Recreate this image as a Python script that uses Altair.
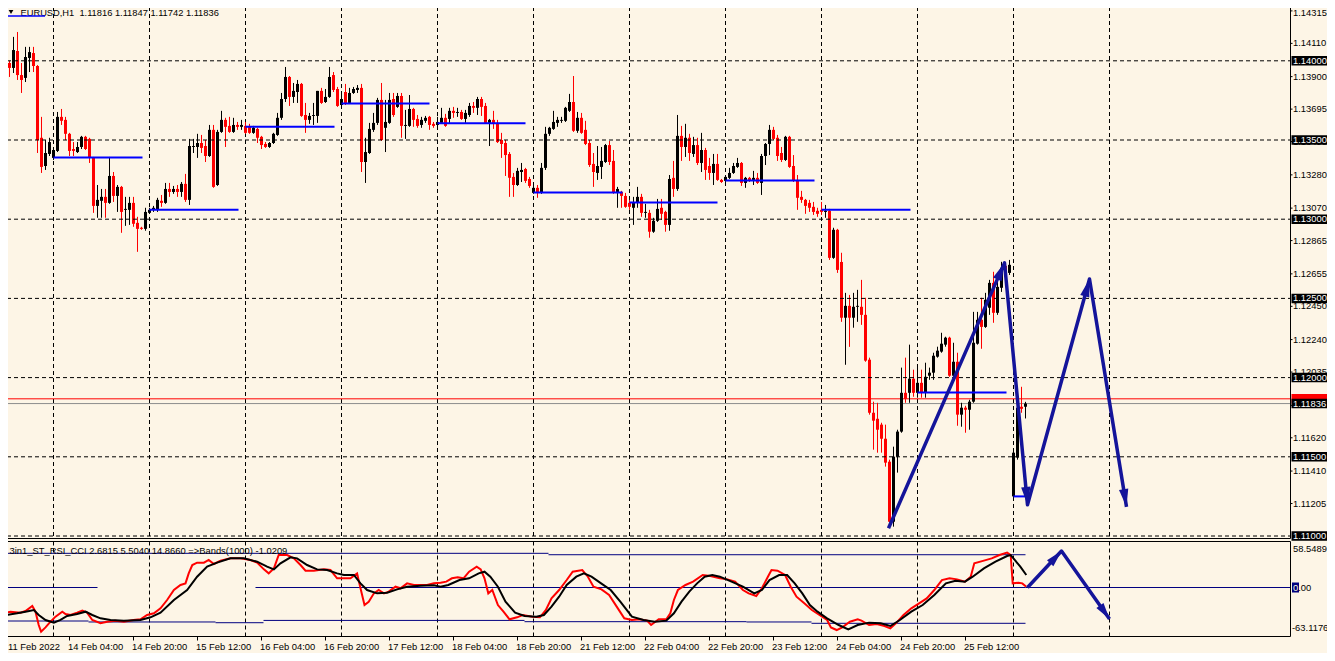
import math
import altair as alt
import pandas as pd

W, H = 1319, 645
BG = "#FDF5E6"
FONT = "Liberation Sans"
ARROW_COL = "#14149a"
BAND_COL = "#000080"
UP_COL = "#000000"
DOWN_COL = "#FF0000"

symbol = "EURUSD,H1"
ind_title = "3in1_ST_RSI_CCI 2.6815 5.5040 14.8660  =>Bands(1000) -1.0209"

opens = [1.13860,1.13986,1.13955,1.14062,1.13910,1.13892,1.14018,1.14049,1.13967,1.13514,
1.13336,1.13412,1.13387,1.13431,1.13646,1.13627,1.13539,1.13443,1.13424,1.13456,
1.13520,1.13507,1.13387,1.13084,1.13116,1.13141,1.13103,1.13273,1.13147,1.13204,
1.13059,1.13059,1.13103,1.12977,1.12946,1.12939,1.13040,1.13059,1.13059,1.13116,
1.13103,1.13191,1.13172,1.13191,1.13172,1.13223,1.13122,1.13456,1.13456,1.13481,
1.13462,1.13399,1.13564,1.13216,1.13551,1.13627,1.13589,1.13551,1.13595,1.13583,
1.13589,1.13583,1.13545,1.13570,1.13520,1.13475,1.13456,1.13481,1.13532,1.13640,
1.13759,1.13898,1.13772,1.13803,1.13854,1.13658,1.13627,1.13652,1.13652,1.13810,
1.13740,1.13772,1.13910,1.13822,1.13721,1.13803,1.13734,1.13797,1.13816,1.13829,
1.13361,1.13418,1.13564,1.13608,1.13753,1.13577,1.13608,1.13759,1.13709,1.13778,
1.13589,1.13589,1.13696,1.13633,1.13595,1.13621,1.13646,1.13602,1.13595,1.13608,
1.13640,1.13633,1.13684,1.13671,1.13677,1.13633,1.13658,1.13715,1.13703,1.13759,
1.13715,1.13608,1.13627,1.13608,1.13500,1.13481,1.13412,1.13267,1.13216,1.13298,
1.13317,1.13254,1.13166,1.13198,1.13166,1.13324,1.13539,1.13570,1.13608,1.13621,
1.13621,1.13684,1.13740,1.13558,1.13640,1.13564,1.13481,1.13349,1.13292,1.13330,
1.13361,1.13468,1.13368,1.13166,1.13172,1.13147,1.13103,1.13072,1.13103,1.13141,
1.13040,1.13040,1.12921,1.12990,1.13072,1.13046,1.12964,1.13261,1.13191,1.13526,
1.13456,1.13514,1.13412,1.13468,1.13355,1.13437,1.13336,1.13292,1.13349,1.13248,
1.13242,1.13261,1.13292,1.13330,1.13355,1.13229,1.13261,1.13248,1.13261,1.13229,
1.13399,1.13475,1.13564,1.13514,1.13418,1.13374,1.13520,1.13336,1.13248,1.13141,
1.13122,1.13103,1.13078,1.13053,1.13059,1.13046,1.13053,1.12756,1.12933,1.12730,
1.12378,1.12453,1.12378,1.12447,1.12447,1.12396,1.12113,1.11778,1.11740,1.11703,
1.11614,1.11469,1.11090,1.11501,1.11659,1.11904,1.11904,1.11993,1.11904,1.11967,
1.11904,1.12012,1.12031,1.12132,1.12164,1.12208,1.12252,1.12012,1.12100,1.11766,
1.11810,1.11797,1.11848,1.12214,1.12365,1.12320,1.12441,1.12598,1.12409,1.12567,
1.12705,1.12661,1.11250,1.11495,1.11816,1.11816]

highs = [1.14011,1.13999,1.14151,1.14182,1.13986,1.14088,1.14088,1.14088,1.13973,1.13646,
1.13500,1.13514,1.13456,1.13677,1.13696,1.13646,1.13545,1.13487,1.13487,1.13526,
1.13526,1.13514,1.13393,1.13216,1.13191,1.13191,1.13393,1.13298,1.13216,1.13210,
1.13141,1.13141,1.13141,1.13015,1.12952,1.13072,1.13072,1.13084,1.13135,1.13153,
1.13229,1.13229,1.13210,1.13216,1.13235,1.13286,1.13507,1.13507,1.13539,1.13532,
1.13500,1.13595,1.13595,1.13564,1.13684,1.13640,1.13646,1.13640,1.13614,1.13627,
1.13614,1.13602,1.13589,1.13577,1.13526,1.13487,1.13487,1.13545,1.13671,1.13797,
1.13961,1.13904,1.13860,1.13879,1.13860,1.13734,1.13671,1.13734,1.13810,1.13829,
1.13822,1.13961,1.13929,1.13835,1.13797,1.13854,1.13829,1.13835,1.13847,1.13854,
1.13514,1.13608,1.13671,1.13766,1.13860,1.13753,1.13797,1.13797,1.13797,1.13797,
1.13690,1.13784,1.13703,1.13658,1.13646,1.13652,1.13652,1.13614,1.13646,1.13703,
1.13665,1.13703,1.13709,1.13703,1.13690,1.13690,1.13734,1.13740,1.13772,1.13772,
1.13734,1.13633,1.13684,1.13627,1.13545,1.13500,1.13424,1.13292,1.13324,1.13355,
1.13324,1.13267,1.13229,1.13216,1.13355,1.13583,1.13583,1.13684,1.13646,1.13646,
1.13709,1.13791,1.13904,1.13677,1.13671,1.13621,1.13500,1.13418,1.13462,1.13456,
1.13475,1.13494,1.13437,1.13204,1.13179,1.13166,1.13122,1.13141,1.13204,1.13160,
1.13097,1.13059,1.13009,1.13128,1.13128,1.13053,1.13279,1.13368,1.13658,1.13589,
1.13602,1.13539,1.13520,1.13514,1.13545,1.13450,1.13387,1.13412,1.13412,1.13254,
1.13279,1.13324,1.13355,1.13387,1.13361,1.13267,1.13267,1.13305,1.13292,1.13412,
1.13481,1.13595,1.13583,1.13532,1.13456,1.13526,1.13526,1.13405,1.13279,1.13179,
1.13128,1.13122,1.13109,1.13072,1.13109,1.13090,1.13065,1.12946,1.12939,1.12788,
1.12535,1.12522,1.12535,1.12554,1.12617,1.12504,1.12126,1.11848,1.11841,1.11715,
1.11703,1.11482,1.11564,1.11671,1.12063,1.12126,1.12208,1.12050,1.12063,1.12050,
1.12094,1.12063,1.12157,1.12195,1.12283,1.12258,1.12258,1.12220,1.12157,1.11841,
1.11822,1.11860,1.12415,1.12415,1.12504,1.12535,1.12617,1.12668,1.12630,1.12731,
1.12724,1.12743,1.11539,1.11829,1.11942,1.11847]

lows = [1.13841,1.13898,1.13923,1.13879,1.13797,1.13866,1.13929,1.13929,1.13418,1.13292,
1.13311,1.13399,1.13374,1.13424,1.13595,1.13500,1.13399,1.13399,1.13418,1.13443,
1.13437,1.13355,1.13040,1.13009,1.13009,1.13009,1.13097,1.13109,1.13046,1.12914,
1.12958,1.12964,1.12952,1.12794,1.12933,1.12927,1.13034,1.13046,1.13046,1.13078,
1.13097,1.13141,1.13160,1.13141,1.13141,1.13109,1.13090,1.13418,1.13387,1.13418,
1.13361,1.13393,1.13198,1.13210,1.13545,1.13456,1.13545,1.13545,1.13564,1.13564,
1.13539,1.13539,1.13539,1.13481,1.13443,1.13450,1.13450,1.13475,1.13526,1.13627,
1.13740,1.13715,1.13734,1.13734,1.13646,1.13545,1.13602,1.13595,1.13608,1.13728,
1.13734,1.13766,1.13803,1.13709,1.13715,1.13721,1.13728,1.13791,1.13797,1.13298,
1.13229,1.13412,1.13551,1.13595,1.13494,1.13424,1.13602,1.13646,1.13703,1.13514,
1.13507,1.13583,1.13583,1.13577,1.13577,1.13608,1.13564,1.13577,1.13564,1.13602,
1.13583,1.13608,1.13640,1.13646,1.13627,1.13608,1.13646,1.13671,1.13658,1.13652,
1.13602,1.13462,1.13570,1.13481,1.13387,1.13273,1.13141,1.13141,1.13210,1.13235,
1.13229,1.13198,1.13160,1.13135,1.13160,1.13311,1.13526,1.13564,1.13583,1.13608,
1.13614,1.13677,1.13551,1.13545,1.13539,1.13468,1.13330,1.13204,1.13248,1.13254,
1.13355,1.13342,1.13160,1.13072,1.13072,1.13072,1.13059,1.12964,1.13072,1.13015,
1.13009,1.12883,1.12914,1.12983,1.12996,1.12921,1.12927,1.13141,1.13179,1.13368,
1.13393,1.13368,1.13393,1.13342,1.13298,1.13248,1.13248,1.13216,1.13242,1.13229,
1.13235,1.13254,1.13286,1.13324,1.13210,1.13198,1.13235,1.13216,1.13223,1.13153,
1.13342,1.13405,1.13500,1.13368,1.13361,1.13368,1.13324,1.13235,1.13059,1.13103,
1.13034,1.13046,1.13027,1.13015,1.13027,1.13009,1.12743,1.12750,1.12661,1.12352,
1.12081,1.12194,1.12315,1.12352,1.12333,1.12100,1.11766,1.11545,1.11526,1.11526,
1.11438,1.11084,1.11059,1.11400,1.11652,1.11841,1.11841,1.11879,1.11873,1.11873,
1.11873,1.11986,1.11986,1.12126,1.12157,1.12195,1.12005,1.11999,1.11696,1.11690,
1.11652,1.11671,1.11841,1.12208,1.12182,1.12314,1.12396,1.12346,1.12396,1.12541,
1.12617,1.12648,1.11244,1.11482,1.11778,1.11742]

closes = [1.13992,1.13955,1.14068,1.13910,1.13879,1.14024,1.14055,1.13967,1.13500,1.13330,
1.13418,1.13487,1.13437,1.13646,1.13621,1.13539,1.13431,1.13431,1.13456,1.13520,
1.13443,1.13387,1.13084,1.13122,1.13141,1.13103,1.13273,1.13147,1.13204,1.13046,
1.13065,1.13103,1.12971,1.12939,1.12939,1.13046,1.13059,1.13072,1.13122,1.13103,
1.13191,1.13172,1.13191,1.13172,1.13223,1.13122,1.13462,1.13462,1.13481,1.13450,
1.13399,1.13564,1.13204,1.13551,1.13627,1.13583,1.13551,1.13595,1.13583,1.13595,
1.13545,1.13545,1.13577,1.13514,1.13468,1.13456,1.13481,1.13539,1.13640,1.13759,
1.13898,1.13772,1.13810,1.13854,1.13652,1.13627,1.13652,1.13658,1.13810,1.13734,
1.13772,1.13898,1.13816,1.13715,1.13759,1.13734,1.13797,1.13822,1.13829,1.13361,
1.13424,1.13570,1.13608,1.13753,1.13500,1.13614,1.13753,1.13658,1.13778,1.13589,
1.13595,1.13696,1.13627,1.13589,1.13627,1.13640,1.13595,1.13589,1.13614,1.13640,
1.13589,1.13684,1.13671,1.13677,1.13633,1.13671,1.13715,1.13703,1.13759,1.13709,
1.13608,1.13627,1.13602,1.13487,1.13475,1.13405,1.13261,1.13216,1.13305,1.13311,
1.13242,1.13210,1.13198,1.13166,1.13324,1.13539,1.13577,1.13614,1.13627,1.13627,
1.13703,1.13740,1.13558,1.13640,1.13545,1.13475,1.13342,1.13298,1.13336,1.13368,
1.13468,1.13361,1.13166,1.13191,1.13147,1.13078,1.13078,1.13103,1.13141,1.13040,
1.13046,1.12921,1.12990,1.13065,1.13034,1.12964,1.13254,1.13191,1.13526,1.13456,
1.13514,1.13418,1.13468,1.13355,1.13437,1.13311,1.13292,1.13349,1.13248,1.13235,
1.13267,1.13292,1.13336,1.13355,1.13229,1.13261,1.13242,1.13261,1.13229,1.13399,
1.13475,1.13564,1.13507,1.13399,1.13374,1.13520,1.13330,1.13242,1.13135,1.13122,
1.13084,1.13072,1.13046,1.13034,1.13046,1.13053,1.12756,1.12933,1.12680,1.12378,
1.12453,1.12378,1.12447,1.12453,1.12396,1.12107,1.11778,1.11728,1.11671,1.11614,
1.11463,1.11090,1.11501,1.11659,1.11904,1.11866,1.11993,1.11904,1.11967,1.11904,
1.12005,1.12031,1.12138,1.12170,1.12214,1.12252,1.12012,1.12100,1.11766,1.11810,
1.11797,1.11848,1.12220,1.12365,1.12320,1.12491,1.12598,1.12409,1.12573,1.12693,
1.12661,1.12712,1.11526,1.11810,1.11803,1.11836]

bid = 1.11836
ask = 1.11866

level_prices = [1.14000, 1.13500, 1.13000, 1.12500, 1.12000, 1.11500, 1.11000]
price_ticks = [1.14315, 1.14110, 1.13900, 1.13695, 1.13490, 1.13280, 1.13070, 1.12865,
               1.12655, 1.12450, 1.12240, 1.12035, 1.11825, 1.11620, 1.11410, 1.11205]
separator_bars = [12, 36, 60, 84, 108, 132, 156, 180, 204, 228, 252, 276]
time_tick_bars = [0, 16, 32, 48, 64, 80, 96, 112, 128, 144, 160, 176, 192, 208, 224, 240]
time_tick_labels = ["11 Feb 2022", "14 Feb 04:00", "14 Feb 20:00", "15 Feb 12:00",
                    "16 Feb 04:00", "16 Feb 20:00", "17 Feb 12:00", "18 Feb 04:00",
                    "18 Feb 20:00", "21 Feb 12:00", "22 Feb 04:00", "22 Feb 20:00",
                    "23 Feb 12:00", "24 Feb 04:00", "24 Feb 20:00", "25 Feb 12:00"]

dayopen_start = [12, 36, 60, 84, 108, 132, 156, 180, 204, 228, 252]
dayopen_end = [34.25, 58.25, 82.25, 106, 130, 154.25, 178, 202.25, 226.25, 250.25, 255.5]
dayopen_price = [1.13389, 1.13059, 1.13584, 1.13730, 1.13606, 1.13168, 1.13105,
                 1.13244, 1.13059, 1.11906, 1.11250]

arrow_bars = [220.75, 249.75, 255.5, 271.0, 280.25]
arrow_prices = [1.11049, 1.12724, 1.11197, 1.12623, 1.11184]

ind_max = 58.5489
ind_min = -63.1176
ind_arrow_bars = [255.5, 264.0, 276.0]
ind_arrow_vals = [0.0, 49.3, -42.6]

red_bars = [0, 1.25, 3.75, 5, 6.7, 7.5, 8.3, 8.9, 10, 11.25, 12.5, 14.2, 15, 16.25, 17.9, 19.2,
            20.4, 21.7, 23.75, 25.4, 27.5, 29.6, 32, 33.75, 35.4, 37.1, 38.75, 40.4, 42.1, 43.75,
            45, 45.8, 46.7, 47.9, 49.6, 50.8, 52.1, 53.75, 56.25, 58.75, 61.25, 62.9, 64.6, 65.8,
            67.1, 68.3, 70.4, 72.1, 73.75, 75, 77.1, 79.6, 81.25, 82.9, 86.25, 87.9, 88.75, 89.75,
            90.8, 92.1, 93.3, 94.6, 95.8, 97.5, 98.75, 100.4, 102.1, 105.4, 107.1,
            108.75, 110.2, 111.6, 113.05, 114.5, 115.9, 117.8, 118.8, 119.75, 120.7, 121.7, 123.1,
            124.5, 126, 127.9, 129.3, 131.7, 133.6, 135.1, 136.5, 138.4, 140.3, 141.8, 144.2,
            145.6, 147, 149, 150.9, 152.8, 154.7, 156.6, 158.5, 160.4, 161.4, 163.3, 165.2, 166.2,
            167.1, 168.1, 170, 171.9, 174.3, 176.2, 178.6, 180.5, 182.4, 184.35, 185.8, 187.7,
            189.1, 190.6, 191.5, 193, 194.9, 196.3, 197.75, 199.7, 201.6, 203.5, 205.4, 206.35,
            207.8, 209.2, 211.1, 213.05, 214, 215.9, 217.8, 219.75, 221.2, 222.6, 224.5, 226.45,
            228.4, 230.3, 232.2, 234.1, 236, 237.9, 239.85, 241.3, 242.2, 244.6, 246.55, 248.5,
            250.4, 251.3, 251.8, 253.25, 254.2, 255.2]
red_vals = [-34.0, -32.7, -34.0, -31.8, -25.0, -32.7, -50.7, -59.7, -53.9, -46.2, -39.4, -32.7,
            -35.8, -37.2, -34.0, -31.3, -34.0, -43.9, -48.4, -46.2, -44.8, -46.2, -43.9, -43.0,
            -37.2, -34.9, -28.2, -16.9, -3.4, 3.4, 5.6, 19.1, 30.4, 33.6, 33.6, 37.2, 31.8, 36.3,
            39.4, 39.4, 37.2, 33.6, 24.5, 19.1, 25.9, 43.9, 43.9, 39.4, 30.4, 22.7, 22.7, 24.5,
            23.6, 12.4, 12.4, 19.1, -1.1, -23.7, -19.2, -7.9, -3.4, -7.9, -5.6, 1.1, -1.1, 5.6,
            3.4, 3.4, 5.6,
            6.5, 7.9, 12.4, 13.7, 12.4, 21.4, 28.2, 24.5, 12.4, -7.9, -3.4, -23.7, -32.7, -43.0,
            -40.3, -37.2, -39.4, -40.3, -30.4, -14.7, -3.4, 10.1, 21.4, 23.6, 14.6, 1.1, -2.5,
            -10.1, -25.9, -41.7, -43.9, -43.0, -44.8, -50.7, -43.0, -43.0, -34.9, -16.9, -3.4,
            3.4, 7.9, 16.9, 15.5, 12.4, 11.0, 7.9, -3.4, -7.9, -11.5, -1.1, 14.6, 23.6, 22.7,
            16.9, 1.1, -12.4, -21.4, -30.4, -37.2, -43.9, -53.9, -57.5, -53.9, -46.2, -43.0,
            -44.8, -50.7, -49.4, -52.1, -55.2, -48.4, -37.2, -28.2, -21.4, -14.7, -3.4, 10.1,
            12.4, 11.0, 7.9, 14.6, 32.7, 36.3, 39.4, 43.9, 47.1, 43.9, 5.6, 6.5, 5.6, 1.1]

black_bars = [0, 2.9, 5, 7.1, 8.3, 10, 12.1, 13.75, 15.4, 17.9, 20, 21.7, 23.75, 26.25, 29.6,
              33.75, 36.25, 38.75, 42.1, 45.4, 47.9, 50.4, 52.9, 56.25, 59.6, 62.9, 65.4, 67.1,
              68.75, 71.25, 72.9, 75.4, 77.9, 80.4, 82.9, 84.6, 87.1, 88.75, 90.4, 92.9, 95.4,
              97.9, 100.4, 103.75, 107.1,
              108.75, 110.7, 113.5, 115.9, 118.3, 119.75, 121.2, 123.1, 125, 127.4, 129.8, 132.7,
              134.6, 136.5, 138.4, 140.3, 142.7, 144.6, 146.5, 148.9, 151.3, 153.7, 156.6, 159.5,
              162.3, 165.2, 167.1, 169, 170.95, 172.9, 174.8, 176.7, 178.6, 181.5, 184.35, 187.2,
              189.1, 191, 193.4, 195.4, 197.3, 199.2, 201.1, 203, 205.4, 208.3, 210.7, 213.05,
              215.9, 218.8, 221.2, 223.6, 226.45, 229.3, 232.2, 235.1, 237.5, 239.85, 241.8,
              244.6, 247.5, 250.4, 251.3, 252.3, 253.7, 255.2]
black_vals = [-37.2, -34.9, -32.7, -30.4, -37.2, -43.9, -47.5, -43.9, -38.5, -35.8, -32.7, -37.2,
              -41.7, -43.9, -44.8, -43.9, -40.3, -34.0, -16.9, -3.4, 14.6, 28.2, 33.6, 39.4, 39.4,
              34.9, 28.2, 24.5, 32.7, 40.8, 39.4, 30.4, 24.5, 23.6, 19.1, 16.9, 16.9, 5.6, -3.4,
              -7.9, -7.0, -2.5, 1.1, 2.5, 2.9,
              1.1, 3.4, 10.1, 12.4, 19.1, 21.4, 14.6, 1.1, -19.2, -34.0, -38.5, -39.4, -37.2,
              -25.9, -12.4, 3.4, 14.6, 19.1, 14.6, 5.6, -3.4, -19.2, -39.4, -43.9, -46.2, -44.8,
              -34.9, -19.2, -5.6, 5.6, 14.6, 16.9, 14.6, 7.9, 1.1, -7.9, -3.4, 10.1, 16.9, 16.9,
              5.6, -7.9, -23.7, -32.7, -41.7, -50.7, -56.6, -50.7, -47.5, -48.4, -52.1, -43.9,
              -32.7, -23.7, -10.1, 5.6, 9.2, 7.9, 14.6, 25.9, 34.9, 42.6, 43.9, 37.2, 28.2, 16.9]

band_start = [0, 135.75, 0, 62.5, 0, 20.75, 52.5, 64.5, 129.75, 185.25, 201.5]
band_end = [135.75, 255, 23, 255, 20.75, 52.5, 64.5, 129.75, 185.25, 201.5, 255]
band_vals = [46.2, 44.3, 0.0, 0.0, -45.3, -46.6, -47.6, -44.5, -46.2, -46.6, -48.4]

# ---------------- scales (pixel layout) ----------------
X_DOM = [0.625, 330.375]
P_DOM, P_RNG = [1.10, 1.15], [686.4, -105.6]
I_DOM, I_RNG = [-100.0, 100.0], [653.47, 505.53]
KX = W / (X_DOM[1] - X_DOM[0])
KP = (P_RNG[0] - P_RNG[1]) / (P_DOM[1] - P_DOM[0])
KI = (I_RNG[0] - I_RNG[1]) / (I_DOM[1] - I_DOM[0])

XS = alt.Scale(domain=X_DOM, range=[0, W], nice=False, zero=False)
PS = alt.Scale(domain=P_DOM, range=P_RNG, nice=False, zero=False)
IS = alt.Scale(domain=I_DOM, range=I_RNG, nice=False, zero=False)


def X(f):
    return alt.X(f, type="quantitative", scale=XS, axis=None)


def YP(f):
    return alt.Y(f, type="quantitative", scale=PS, axis=None)


def YI(f):
    return alt.Y(f, type="quantitative", scale=IS, axis=None)


def COL(f="col"):
    return alt.Color(f"{f}:N", scale=None, legend=None)


one = pd.DataFrame({"a": [0]})
RIGHT = 1282.5
MAIN_BOT = 530.5
IND_TOP = 533.5
IND_BOT = 628.5
LBL_X = 1285
LBL_FS = 9.4

candles = pd.DataFrame({"bar": list(range(len(closes))), "open": opens, "high": highs,
                        "low": lows, "close": closes})
candles["col"] = [UP_COL if c >= o else DOWN_COL for o, c in zip(opens, closes)]

layers = []

# separators
sep = pd.DataFrame({"bar": separator_bars})
layers.append(alt.Chart(sep).mark_rule(color="black", strokeDash=[4, 3], strokeWidth=1)
              .encode(x=X("bar"), y=alt.value(-8), y2=alt.value(MAIN_BOT)))
layers.append(alt.Chart(sep).mark_rule(color="black", strokeDash=[4, 3], strokeWidth=1)
              .encode(x=X("bar"), y=alt.value(IND_TOP), y2=alt.value(IND_BOT)))

# bid / ask lines
ba = pd.DataFrame({"p": [ask, bid], "col": ["#FF0000", "#8c8c8c"]})
layers.append(alt.Chart(ba).mark_rule(strokeWidth=1).encode(
    y=YP("p"), x=alt.value(-8), x2=alt.value(RIGHT), color=COL()))

# candles
layers.append(alt.Chart(candles).mark_rule(strokeWidth=1).encode(
    x=X("bar"), y=YP("low"), y2=alt.Y2("high"), color=COL()))
layers.append(alt.Chart(candles).mark_rule(strokeWidth=3).encode(
    x=X("bar"), y=YP("open"), y2=alt.Y2("close"), color=COL()))

# horizontal level lines (dashed)
lv = pd.DataFrame({"p": level_prices})
layers.append(alt.Chart(lv).mark_rule(color="black", strokeDash=[4, 3], strokeWidth=1).encode(
    y=YP("p"), x=alt.value(-8), x2=alt.value(RIGHT)))

# daily open segments
do = pd.DataFrame({"s": dayopen_start, "e": dayopen_end, "p": dayopen_price})
layers.append(alt.Chart(do).mark_rule(color="#0000FF", strokeWidth=2).encode(
    x=X("s"), x2=alt.X2("e"), y=YP("p")))

# arrows
ARROW_PATH = "M0,0L0.55,2.1L-0.55,2.1Z"


def head_rows(bx, vy, ky):
    rows = []
    for k in range(1, len(bx)):
        dx = (bx[k] - bx[k - 1]) * KX
        dy = (vy[k] - vy[k - 1]) * ky
        rows.append({"bar": bx[k], "v": vy[k], "ang": math.degrees(math.atan2(dx, dy)) % 360})
    return pd.DataFrame(rows)


ar = pd.DataFrame({"bar": arrow_bars, "v": arrow_prices, "i": list(range(len(arrow_bars)))})
layers.append(alt.Chart(ar).mark_line(color=ARROW_COL, strokeWidth=3.5, strokeJoin="round").encode(
    x=X("bar"), y=YP("v"), order="i:Q"))
layers.append(alt.Chart(head_rows(arrow_bars, arrow_prices, KP)).mark_point(
    shape=ARROW_PATH, size=290, filled=True, color=ARROW_COL, opacity=1, strokeWidth=0).encode(
    x=X("bar"), y=YP("v"), angle=alt.Angle("ang:Q", scale=None)))

# indicator bands
bd = pd.DataFrame({"s": band_start, "e": band_end, "v": band_vals})
layers.append(alt.Chart(bd).mark_rule(color=BAND_COL, strokeWidth=1).encode(
    x=X("s"), x2=alt.X2("e"), y=YI("v")))
layers.append(alt.Chart(pd.DataFrame({"v": [0.0]})).mark_rule(color=BAND_COL, strokeWidth=1).encode(
    y=YI("v"), x=alt.value(1017.5), x2=alt.value(RIGHT)))

rd = pd.DataFrame({"bar": red_bars, "v": red_vals})
layers.append(alt.Chart(rd).mark_line(color="#FF0000", strokeWidth=2).encode(x=X("bar"), y=YI("v")))
bk = pd.DataFrame({"bar": black_bars, "v": black_vals})
layers.append(alt.Chart(bk).mark_line(color="#000000", strokeWidth=2).encode(x=X("bar"), y=YI("v")))

ia = pd.DataFrame({"bar": ind_arrow_bars, "v": ind_arrow_vals, "i": [0, 1, 2]})
layers.append(alt.Chart(ia).mark_line(color=ARROW_COL, strokeWidth=3.5, strokeJoin="round").encode(
    x=X("bar"), y=YI("v"), order="i:Q"))
layers.append(alt.Chart(head_rows(ind_arrow_bars, ind_arrow_vals, KI)).mark_point(
    shape=ARROW_PATH, size=250, filled=True, color=ARROW_COL, opacity=1, strokeWidth=0).encode(
    x=X("bar"), y=YI("v"), angle=alt.Angle("ang:Q", scale=None)))

# frames
frame_h = pd.DataFrame({"y": [MAIN_BOT, IND_TOP, IND_BOT]})
layers.append(alt.Chart(frame_h).mark_rule(color="#000000", strokeWidth=1).encode(
    y=alt.Y("y:Q", scale=None), x=alt.value(-8), x2=alt.value(RIGHT)))
layers.append(alt.Chart(one).mark_rule(color="#000000", strokeWidth=1).encode(
    x=alt.value(RIGHT), y=alt.value(-8), y2=alt.value(MAIN_BOT)))
layers.append(alt.Chart(one).mark_rule(color="#000000", strokeWidth=1).encode(
    x=alt.value(RIGHT), y=alt.value(IND_TOP), y2=alt.value(IND_BOT)))

# header
hdr = f"{symbol}\u00a0\u00a0{opens[-1]:.5f} {highs[-1]:.5f} {lows[-1]:.5f} {closes[-1]:.5f}"
layers.append(alt.Chart(pd.DataFrame({"t": [hdr]})).mark_text(
    align="left", baseline="middle", font=FONT, fontSize=9.3, color="black").encode(
    text="t:N", x=alt.value(12.5), y=alt.value(4.5)))
layers.append(alt.Chart(one).mark_point(shape="triangle-down", size=22, filled=True,
                                        color="black", opacity=1).encode(
    x=alt.value(3), y=alt.value(4)))
layers.append(alt.Chart(one).mark_rule(color="#0000FF", strokeWidth=1.5).encode(
    x=alt.value(-2), x2=alt.value(37), y=alt.value(8)))

layers.append(alt.Chart(pd.DataFrame({"t": [ind_title]})).mark_text(
    align="left", baseline="middle", font=FONT, fontSize=9.4, color="black").encode(
    text="t:N", x=alt.value(1.5), y=alt.value(543)))

# price axis ticks & labels
pt = pd.DataFrame({"p": price_ticks, "t": [f"{p:.5f}" for p in price_ticks]})
layers.append(alt.Chart(pt).mark_rule(color="black").encode(
    y=YP("p"), x=alt.value(RIGHT), x2=alt.value(RIGHT + 2)))
layers.append(alt.Chart(pt.iloc[1:]).mark_text(align="left", baseline="middle", font=FONT,
                                               fontSize=LBL_FS, color="black").encode(
    y=YP("p"), x=alt.value(LBL_X), text="t:N"))
layers.append(alt.Chart(pt.iloc[[0]]).mark_text(align="left", baseline="top", font=FONT,
                                                fontSize=LBL_FS, color="black", dy=-2).encode(
    y=YP("p"), x=alt.value(LBL_X), text="t:N"))

box_p = level_prices + [ask, bid]
boxes = pd.DataFrame({"p": box_p,
                      "col": ["#000000"] * len(level_prices) + ["#FF0000", "#000000"],
                      "t": [f"{p:.5f}" for p in box_p],
                      "o": list(range(len(box_p)))})
layers.append(alt.Chart(boxes).mark_rule(strokeWidth=9.5).encode(
    y=YP("p"), x=alt.value(1283.5), x2=alt.value(1319), color=COL(), order=alt.Order("o:Q")))
layers.append(alt.Chart(boxes[boxes["col"] == "#000000"]).mark_text(
    align="left", baseline="middle", font=FONT, fontSize=LBL_FS, color="white").encode(
    y=YP("p"), x=alt.value(LBL_X), text="t:N"))

# indicator axis labels
il = pd.DataFrame({"v": [ind_max, 0.0, ind_min],
                   "t": [f"{ind_max:.4f}", "0.00", f"{ind_min:.4f}"]})
layers.append(alt.Chart(il.iloc[[0]]).mark_text(align="left", baseline="top", font=FONT,
                                                fontSize=LBL_FS, color="black", dy=1).encode(
    y=YI("v"), x=alt.value(LBL_X), text="t:N"))
layers.append(alt.Chart(il.iloc[[1]]).mark_rule(color=BAND_COL, strokeWidth=10).encode(
    y=YI("v"), x=alt.value(1284), x2=alt.value(1291)))
layers.append(alt.Chart(il.iloc[[1]]).mark_text(align="left", baseline="middle", font=FONT,
                                                fontSize=LBL_FS, color="black").encode(
    y=YI("v"), x=alt.value(LBL_X), text="t:N"))
layers.append(alt.Chart(il.iloc[[1]].assign(t="0")).mark_text(
    align="left", baseline="middle", font=FONT, fontSize=LBL_FS, color="white").encode(
    y=YI("v"), x=alt.value(LBL_X), text="t:N"))
layers.append(alt.Chart(il.iloc[[2]]).mark_text(align="left", baseline="bottom", font=FONT,
                                                fontSize=LBL_FS, color="black", dy=-1).encode(
    y=YI("v"), x=alt.value(LBL_X - 1), text="t:N"))

# time axis
tt = pd.DataFrame({"bar": time_tick_bars, "t": time_tick_labels})
layers.append(alt.Chart(tt).mark_rule(color="black").encode(
    x=X("bar"), y=alt.value(IND_BOT), y2=alt.value(IND_BOT + 4)))
layers.append(alt.Chart(tt.iloc[1:]).mark_text(align="left", baseline="middle", font=FONT,
                                               fontSize=9.4, color="black", dx=-1.5).encode(
    x=X("bar"), y=alt.value(639), text="t:N"))
layers.append(alt.Chart(tt.iloc[[0]]).mark_text(align="left", baseline="middle", font=FONT,
                                                fontSize=9.4, color="black").encode(
    x=alt.value(0), y=alt.value(639), text="t:N"))

chart = alt.layer(*layers).resolve_scale(y="independent").properties(
    width=W, height=H, padding=0, background=BG,
    autosize=alt.AutoSizeParams(type="none")
).configure_view(stroke=None)

chart.save("out.html", embed_options={"renderer": "svg", "actions": False})
